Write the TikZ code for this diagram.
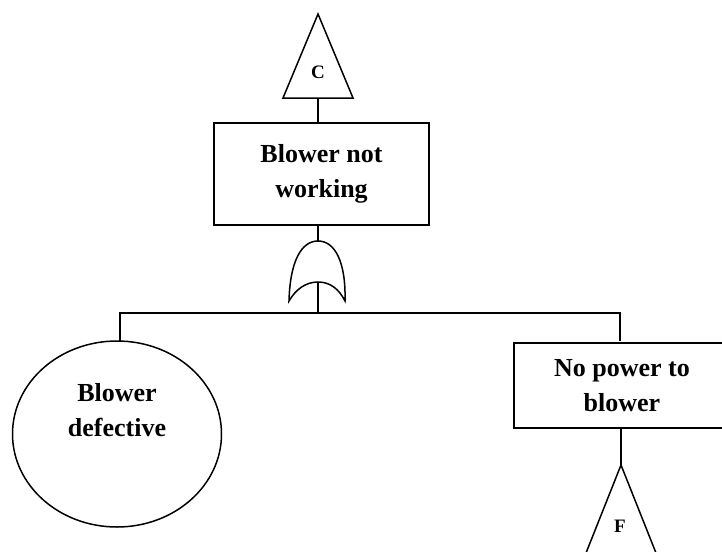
\documentclass[tikz,border=0pt]{standalone}
\usepackage{fontspec}
\setmainfont{Liberation Serif}
\usetikzlibrary{shapes.geometric}

\begin{document}
\begin{tikzpicture}[x=1pt,y=-1pt,line width=1.5pt,
    eventbox/.style={draw,rectangle,align=center,font=\fontsize{26}{35}\selectfont\bfseries},
    basicev/.style={draw,ellipse},
    evtext/.style={align=center,font=\fontsize{26}{35}\selectfont\bfseries},
    xfer/.style={font=\fontsize{19}{20}\selectfont\bfseries}]
    \useasboundingbox (0,0) rectangle (722,551);

    % Triangulo de transferencia C
    \draw (318,14) -- (353,98) -- (283,98) -- cycle;
    \node[xfer] (c) at (318,72) {C};
    \coordinate (cbase) at (318,98);

    % Evento superior
    \node[eventbox,minimum width=215pt,minimum height=102pt] (top) at (321.5,174) {Blower not\\working};
    \draw (cbase) -- (cbase |- top.north);

    % Compuerta OR
    \coordinate (gtop) at (318,241);
    \coordinate (gin) at (318,282);
    \draw (289,301) .. controls (290,262) and (301,241) .. (gtop)
          .. controls (335,241) and (346,262) .. (345,301)
          .. controls (339,289) and (330,282) .. (gin)
          .. controls (306,282) and (296,289) .. (289,301) -- cycle;
    \draw (top.south -| gtop) -- (gtop);

    % Ramas
    \coordinate (split) at (318,313);
    \coordinate (lleg) at (120,341);
    \coordinate (rleg) at (620,341);
    \draw (gin) -- (split);
    \draw (lleg) |- (split) -| (rleg);

    % Evento basico
    \node[basicev,minimum width=209pt,minimum height=186pt] (bd) at (117,434) {};
    \node[evtext] (bdtext) at (117,410) {Blower\\defective};

    % Evento intermedio
    \node[eventbox,minimum width=216pt,minimum height=85pt] (np) at (622,385.5) {No power to\\blower};

    % Triangulo de transferencia F
    \coordinate (fapex) at (621,465);
    \draw (np.south -| fapex) -- (fapex);
    \draw (fapex) -- (656,553) -- (586,553) -- cycle;
    \node[xfer] (f) at (620,526) {F};
\end{tikzpicture}
\end{document}
